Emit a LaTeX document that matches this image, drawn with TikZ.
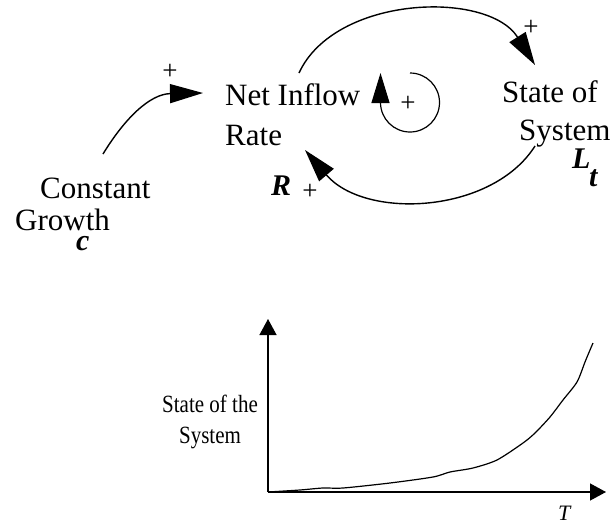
\documentclass[tikz,border=0pt]{standalone}
\usepackage{fontspec}
\setmainfont{Liberation Serif}
\usetikzlibrary{arrows.meta}
\tikzset{
  big/.style={inner sep=0pt, anchor=base west, font=\fontsize{31}{40}\selectfont},
  var/.style={inner sep=0pt, anchor=base west, font=\fontsize{30}{36}\selectfont\bfseries\itshape},
  pls/.style={inner sep=0pt, font=\fontsize{27}{30}\selectfont},
  small/.style={inner sep=0pt, font=\fontsize{21}{28}\selectfont},
  link/.style={line width=1.4pt, -{Triangle[length=33pt,width=19pt]}},
  axis/.style={line width=1.3pt, -{Triangle[length=16pt,width=17pt]}}
}
\begin{document}
\begin{tikzpicture}[x=1pt,y=-1pt]
\useasboundingbox (0,0) rectangle (613,525);
% text of the causal loop diagram
\node[big] (netinflow) at (225,105) {Net Inflow};
\node[big] (rate) at (225,145) {Rate};
\node[big] (stateof) at (502,102) {State of};
\node[big] (system) at (519,140) {System};
\node[big] (constant) at (40,198) {Constant};
\node[big] (growth) at (15,230) {Growth};
\node[var] (cvar) at (76,250) {c};
\node[var] (Rvar) at (271,195) {R};
\node[var] (Lvar) at (572,168) {L};
\node[var] (tsub) at (589,186) {t};
\node[pls] (p1) at (170,72) {+};
\node[pls] (p2) at (531,28) {+};
\node[pls] (p3) at (310,192) {+};
\node[pls] (p4) at (408,104) {+};
% connector end points
\coordinate (cgs) at (103,154);
\coordinate (cge) at (203,93);
\coordinate (ts) at (299,73);
\coordinate (te) at (535,65);
\coordinate (bs) at (535,146);
\coordinate (be) at (305,150);
\coordinate (ls) at (410,73);
\coordinate (le) at (380.5,73);
% connectors
\draw[link] (cgs) .. controls (125,118) and (150,94) .. (cge);
\draw[link] (ts) .. controls (335,-5) and (488,-10) .. (te);
\draw[link] (bs) .. controls (492,214) and (365,220) .. (be);
\draw[line width=1.2pt, -{Triangle[length=30pt,width=18pt]}] (ls) arc[start angle=-90, end angle=180, radius=29.5] -- (le);
% graph
\coordinate (O) at (268,492);
\coordinate (ytip) at (268,319);
\coordinate (xtip) at (606,492);
\draw[axis] (O) -- (ytip);
\draw[axis] (O) -- (xtip);
\draw[line width=1.2pt] plot[smooth, tension=0.45] coordinates {(268,492) (300,490) (323,488) (343,488) (390,483) (433,477) (450,472) (473,468) (497,460) (523,443) (535,433) (550,417) (563,400) (577,382) (585,362) (590,350) (593,343)};
\node[small, anchor=base west] (yl1) at (162,412) {\scalebox{1}[1.18]{State of the}};
\node[small, anchor=base] (yl2) at (210,443) {\scalebox{1}[1.18]{System}};
\node[inner sep=0pt, anchor=base west, font=\fontsize{22}{24}\selectfont\itshape] (Tlab) at (558,520) {T};
\end{tikzpicture}
\end{document}
